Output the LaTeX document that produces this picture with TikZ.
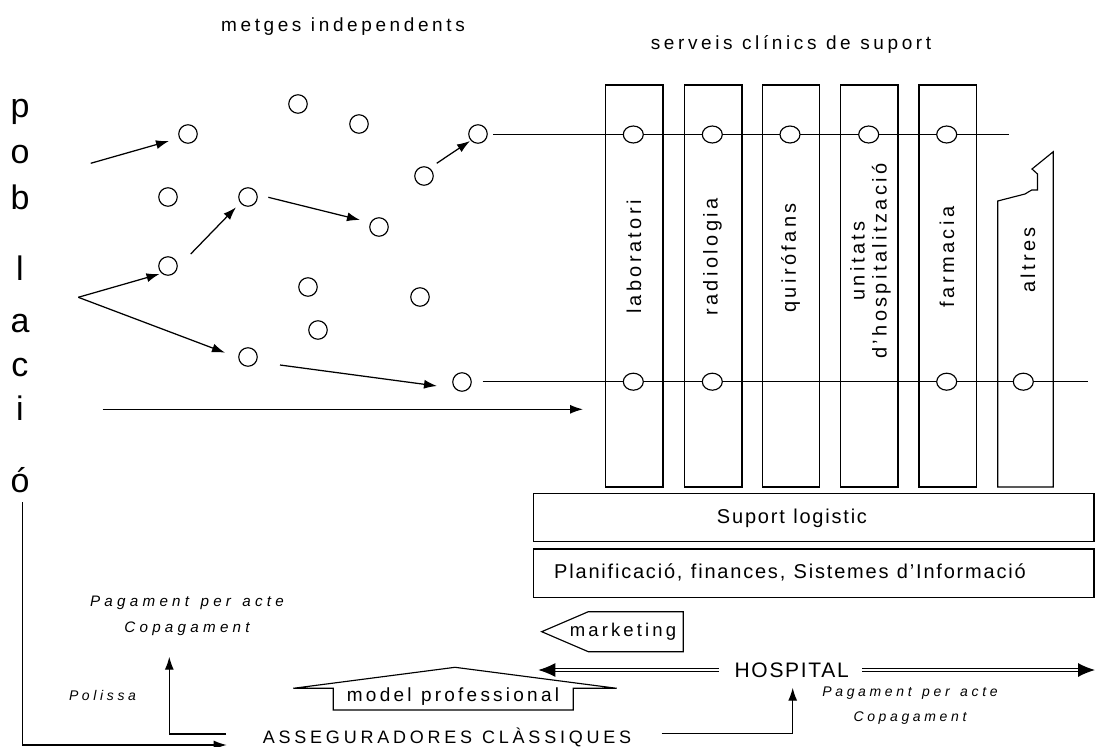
\documentclass[tikz,border=0pt]{standalone}
\usepackage{fontspec}
\setmainfont{Liberation Sans}
\usetikzlibrary{arrows.meta,shapes.geometric}
% size, baseline skip, letter spacing, interword space
\newcommand\labfont[4]{\fontsize{#1}{#2}\selectfont\addfontfeatures{LetterSpace=#3}\spaceskip=#4em\relax}
\begin{document}
\begin{tikzpicture}[x=1pt,y=-1pt,
  line width=1.2pt,
  arr/.style={-{Latex[length=13pt,width=9pt]}, line width=1.25pt},
  dot/.style={circle, draw, fill=white, minimum size=18.5pt, inner sep=0pt, line width=1.15pt},
  ldot/.style={ellipse, draw, fill=white, minimum width=20pt, minimum height=17pt, inner sep=0pt, line width=1.15pt},
  colbox/.style={draw, minimum width=57.5pt, minimum height=402pt, inner sep=0pt, line width=1.15pt},
  bar/.style={draw, minimum width=560.7pt, minimum height=48.4pt, inner sep=0pt, line width=1.15pt},
  collab/.style={rotate=90, font=\labfont{20}{22}{17}{0.45}, align=center, inner sep=0pt},
  toplab/.style={font=\labfont{19}{22}{19}{0.5}, inner sep=0pt},
  itlab/.style={font=\labfont{14}{16}{26}{0.75}\itshape, inner sep=0pt},
  itlabbig/.style={font=\labfont{15.2}{17}{28}{0.75}\itshape, inner sep=0pt},
  poblet/.style={font=\fontsize{34}{36}\selectfont, anchor=base, inner sep=0pt},
  dblline/.style={double distance=2.6pt, line width=1.1pt},
  dblhead/.style={-{Latex[length=17pt,width=14pt]}, line width=1.1pt}
]
\useasboundingbox (0,0) rectangle (1096,747);

% titles
\node[toplab] (tmetges) at (343,27) {metges independents};
\node[toplab] (tserveis) at (791,44) {serveis clínics de suport};

% vertical word on the left
\node[poblet] (p1) at (20,117) {p};
\node[poblet] (p2) at (20,163) {o};
\node[poblet] (p3) at (20,209) {b};
\node[poblet] (p4) at (20,280) {l};
\node[poblet] (p5) at (20,332) {a};
\node[poblet] (p6) at (20,376) {c};
\node[poblet] (p7) at (20,420) {i};
\node[poblet] (p8) at (20,492) {ó};

% service columns
\node[colbox] (col1) at (634.2,286) {};
\node[colbox] (col2) at (713.3,286) {};
\node[colbox] (col3) at (791,286) {};
\node[colbox] (col4) at (869.3,286) {};
\node[colbox] (col5) at (947.7,286) {};
\draw[line width=1.15pt] (997.7,487) -- (997.7,201) -- (1025,194) -- (1031.7,190)
  -- (1037.5,190) -- (1037.5,174) -- (1032,169) -- (1053.3,151.7) -- (1053.3,487) -- cycle;

\node[collab] (l1) at (634,257) {laboratori};
\node[collab] (l2) at (712.5,257) {radiologia};
\node[collab] (l3) at (790.5,258) {quirófans};
\node[collab] (l4) at (870.5,261) {unitats\\d’hospitalització};
\node[collab] (l5) at (947,257) {farmacia};
\node[collab] (l6) at (1028,260) {altres};

% support bars
\node[bar] (sup) at (813.6,517.5) {};
\node[bar] (plan) at (813.6,573.2) {};
\node[font=\labfont{20}{22}{9}{0.42}] (tsup) at (792,518) {Suport logistic};
\node[font=\labfont{20}{22}{9}{0.42}] (tplan) at (790,572) {Planificació, finances, Sistemes d’Informació};

% free doctors
\node[dot] (d1) at (188,134) {};
\node[dot] (d2) at (298,104) {};
\node[dot] (d3) at (359,124) {};
\node[dot] (d4) at (478,134) {};
\node[dot] (d5) at (424,176) {};
\node[dot] (d6) at (168,197) {};
\node[dot] (d7) at (248,197) {};
\node[dot] (d8) at (379,227) {};
\node[dot] (d9) at (168,266) {};
\node[dot] (d10) at (308,287) {};
\node[dot] (d11) at (420,297) {};
\node[dot] (d12) at (318,330) {};
\node[dot] (d13) at (248,357) {};
\node[dot] (d14) at (462,382) {};

% paths of patients
\coordinate (v) at (78.3,297.3);
\coordinate (s1) at (90.7,163.3);
\coordinate (e1) at (169,141);
\coordinate (e2) at (159.5,274);
\coordinate (e3) at (225,352.7);
\coordinate (s4) at (190.7,254);
\coordinate (e4) at (236,207.3);
\coordinate (s5) at (268.3,197.3);
\coordinate (e5) at (360,220);
\coordinate (s6) at (436.7,163.3);
\coordinate (e6) at (470,141);
\coordinate (s7) at (280,365);
\coordinate (e7) at (437,386);
\draw[arr] (s1) -- (e1);
\draw[arr] (v) -- (e2);
\draw[arr] (v) -- (e3);
\draw[arr] (s4) -- (e4);
\draw[arr] (s5) -- (e5);
\draw[arr] (s6) -- (e6);
\draw[arr] (s7) -- (e7);

\coordinate (h1) at (102.7,409.3);
\coordinate (h2) at (583,409.3);
\draw[arr] (h1) -- (h2);

% lines through the services
\coordinate (tl) at (493,134.5);
\coordinate (tr) at (1009,134.5);
\coordinate (bl) at (482.7,381.7);
\coordinate (br) at (1088,381.7);
\draw[line width=1.15pt] (tl) -- (tr);
\draw[line width=1.15pt] (bl) -- (br);
\node[ldot] (t1) at (633.3,134.5) {};
\node[ldot] (t2) at (712.3,134.5) {};
\node[ldot] (t3) at (790,134.5) {};
\node[ldot] (t4) at (868.7,134.5) {};
\node[ldot] (t5) at (946.7,134.5) {};
\node[ldot] (b1) at (633.3,381.7) {};
\node[ldot] (b2) at (712.3,381.7) {};
\node[ldot] (b3) at (946.7,381.7) {};
\node[ldot] (b4) at (1023.3,381.7) {};

% hospital and its double arrows
\node[font=\labfont{21}{24}{8}{0.3}, inner sep=0pt] (hosp) at (791.7,670) {HOSPITAL};
\coordinate (hl) at (538.3,670);
\coordinate (hlb) at (552,670);
\coordinate (hr) at (1095,670);
\coordinate (hrb) at (1081,670);
\draw[dblline] (hosp.west) ++(-15,0) -- (hlb);
\draw[dblhead] (hlb) -- (hl);
\draw[dblline] (hosp.east) ++(13,0) -- (hrb);
\draw[dblhead] (hrb) -- (hr);

\draw[line width=1.15pt] (541.7,631.7) -- (588.3,611.7) -- (683.3,611.7) -- (683.3,651.7) -- (588.3,651.7) -- cycle;
\node[font=\labfont{18.5}{22}{17}{0.45}, inner sep=0pt] (mkt) at (623,632) {marketing};

\draw[line width=1.15pt] (333.3,710) -- (333.3,688.3) -- (293.3,688.3) -- (455,667.3)
  -- (616.7,688.3) -- (573.3,688.3) -- (573.3,710) -- cycle;
\node[font=\labfont{19}{22}{17}{0.5}, inner sep=0pt] (mprof) at (453,697) {model professional};

% insurers
\node[font=\labfont{18}{22}{21}{0.55}, inner sep=0pt] (aseg) at (447,737) {ASSEGURADORES CLÀSSIQUES};
\coordinate (a1) at (226,734);
\coordinate (a2) at (169.3,656.7);
\draw[arr] (a1) -| (a2);
\coordinate (a3) at (661.7,733.3);
\coordinate (a4) at (792.7,687.7);
\draw[arr] (a3) -| (a4);

\coordinate (ltop) at (22.7,502);
\coordinate (lend) at (226.7,745);
\draw[arr] (ltop) |- (lend);

\node[itlabbig] (pa1) at (187,603.3) {Pagament per acte};
\node[itlabbig] (co1) at (187,628.3) {Copagament};
\node[itlab] (pol) at (102.5,695) {Polissa};
\node[itlab] (pa2) at (910,693.3) {Pagament per acte};
\node[itlab] (co2) at (910,718.3) {Copagament};
\end{tikzpicture}
\end{document}
